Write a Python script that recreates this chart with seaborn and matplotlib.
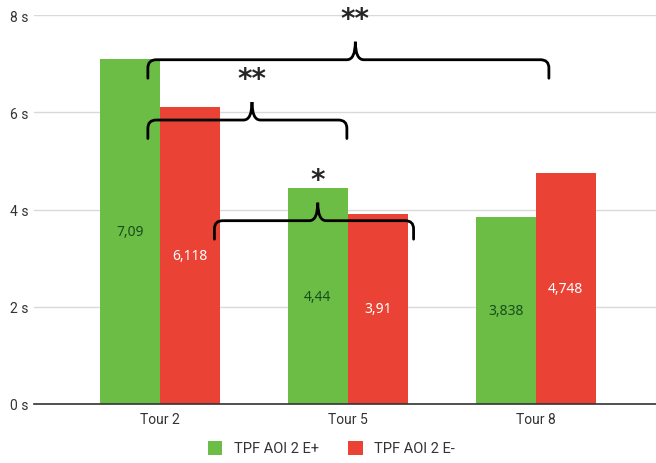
import pandas as pd
import numpy as np
import seaborn as sns
import matplotlib.pyplot as plt
from matplotlib.path import Path
from matplotlib.patches import PathPatch

tours = ["Tour 2", "Tour 5", "Tour 8"]
e_plus = [7.09, 4.44, 3.838]
e_minus = [6.118, 3.91, 4.748]
series = ["TPF AOI 2 E+", "TPF AOI 2 E-"]

# significance braces: x start, x end, x of tip, y of bar, label
braces = [
    (-0.064, 2.07, 1.04, 7.08, "**"),
    (-0.064, 0.995, 0.49, 5.84, "**"),
    (0.29, 1.35, 0.84, 3.77, "*"),
]

df = pd.DataFrame({
    "Tour": tours * 2,
    "Time": e_plus + e_minus,
    "Serie": [series[0]] * 3 + [series[1]] * 3,
})

sns.set_style("white")
plt.rcParams["font.family"] = ["Roboto", "DejaVu Sans"]

fig = plt.figure(figsize=(6.56, 4.64), dpi=100)
ax = fig.add_axes([34 / 656, 1 - 405 / 464, 1 - 34 / 656, (405 - 16) / 464])

palette = {series[0]: "#6cbd45", series[1]: "#ea4335"}
sns.barplot(data=df, x="Tour", y="Time", hue="Serie", palette=palette,
            width=0.64, saturation=1, linewidth=0, ax=ax)

# value labels centred in the bars
label_colors = ["#174f1c", "white"]
for cont, col in zip(ax.containers, label_colors):
    labels = [str(v).replace(".", ",") for v in cont.datavalues]
    ax.bar_label(cont, labels=labels, label_type="center", color=col,
                 fontsize=10, family=["Noto Sans", "DejaVu Sans"])

ax.set_ylim(0, 8)
ax.set_xlim(-0.67, 2.64)
ax.set_yticks(np.arange(0, 9, 2))
ax.set_yticklabels([f"{int(t)} s" for t in np.arange(0, 9, 2)])
ax.yaxis.grid(True, color="#d9d9d9", linewidth=1)
ax.set_axisbelow(True)
for s in ["top", "right", "left"]:
    ax.spines[s].set_visible(False)
ax.spines["bottom"].set_color("#333333")
ax.spines["bottom"].set_linewidth(1.2)
ax.tick_params(axis="both", length=0, labelsize=10, colors="#333333")
ax.tick_params(axis="y", pad=4)
ax.tick_params(axis="x", pad=6)
ax.set_xlabel("")
ax.set_ylabel("")


def brace(x0, x1, xm, y, label):
    rx, ry = 0.045, 0.17
    drop, tip = 0.38, 0.37
    verts = [
        (x0, y - drop), (x0, y - ry), (x0, y), (x0 + rx, y),
        (xm - rx, y), (xm, y), (xm, y + tip),
        (xm, y), (xm + rx, y),
        (x1 - rx, y), (x1, y), (x1, y - ry), (x1, y - drop),
    ]
    codes = [
        Path.MOVETO, Path.LINETO, Path.CURVE3, Path.CURVE3,
        Path.LINETO, Path.CURVE3, Path.CURVE3,
        Path.CURVE3, Path.CURVE3,
        Path.LINETO, Path.CURVE3, Path.CURVE3, Path.LINETO,
    ]
    ax.add_patch(PathPatch(Path(verts, codes), fill=False, lw=2,
                           color="black", clip_on=False, capstyle="round"))
    ax.text(xm, y + tip + 0.18, label, ha="center", va="bottom",
            fontsize=20, fontweight="bold", family="DejaVu Sans",
            clip_on=False)


for x0, x1, xm, y, lab in braces:
    brace(x0, x1, xm, y, lab)

handles, labels = ax.get_legend_handles_labels()
ax.legend_.remove()
fig.legend(handles, labels, loc="center", bbox_to_anchor=(0.505, 1 - 449 / 464),
           ncol=2, frameon=False, fontsize=10.5, handlelength=1.0,
           handleheight=1.1, handletextpad=0.8, columnspacing=2.0,
           labelcolor="#333333")

fig.savefig("out.png", dpi=100)
